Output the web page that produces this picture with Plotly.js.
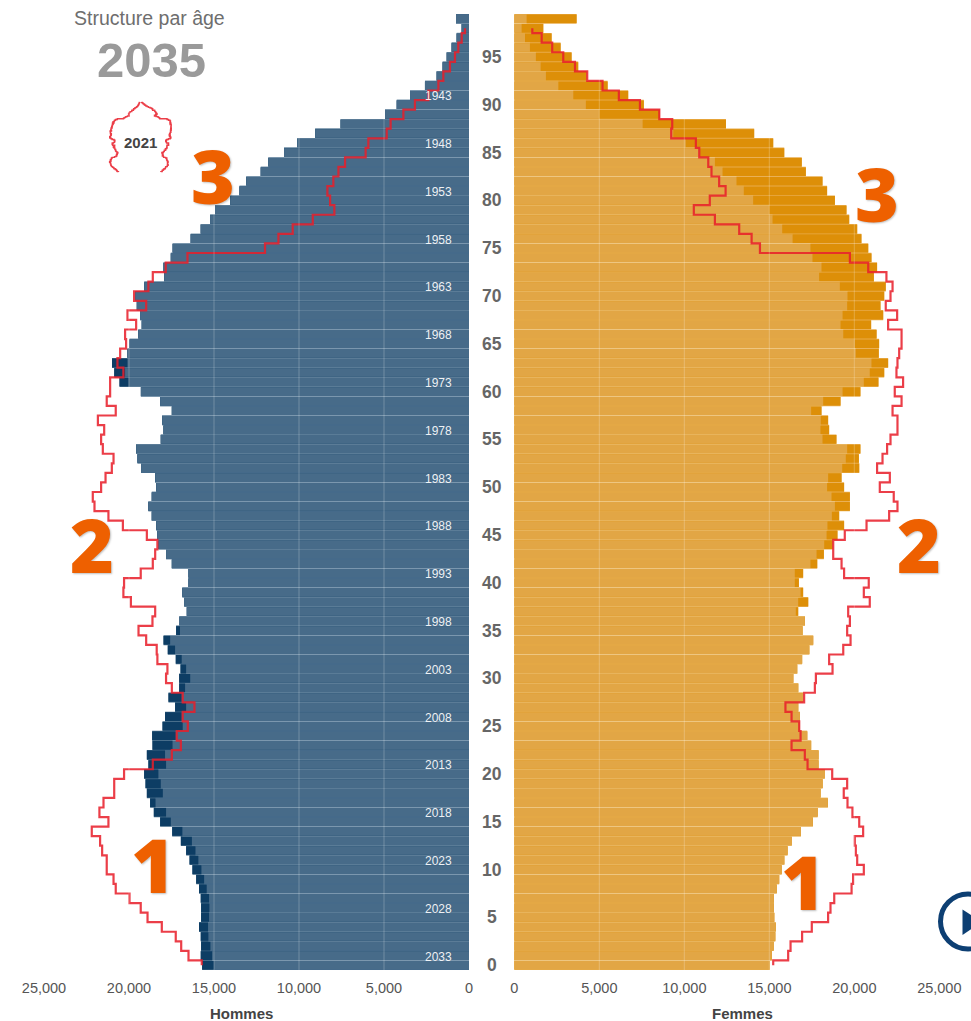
<!DOCTYPE html>
<html><head><meta charset="utf-8">
<script src="https://cdn.plot.ly/plotly-3.0.1.min.js"></script>
<style>html,body{margin:0;padding:0;background:#fff;overflow:hidden}#g{width:971px;height:1021px}</style>
</head><body><div id="g"></div>
<script>
// All series run from age 99 down to age 0
const ages = [99,98,97,96,95,94,93,92,91,90,89,88,87,86,85,84,83,82,81,80,79,78,77,76,75,74,73,72,71,70,69,68,67,66,65,64,63,62,61,60,59,58,57,56,55,54,53,52,51,50,49,48,47,46,45,44,43,42,41,40,39,38,37,36,35,34,33,32,31,30,29,28,27,26,25,24,23,22,21,20,19,18,17,16,15,14,13,12,11,10,9,8,7,6,5,4,3,2,1,0];
const hommesTotal = [765,430,725,1020,1310,1550,1900,2590,3470,4250,4940,7550,9050,10100,10880,11800,12250,13100,13500,14050,14940,15230,15780,16370,17430,17540,17970,17930,19100,19640,19540,19350,19250,19450,
19970,20090,21000,20870,20560,19300,18170,17480,18050,17970,18130,19580,19500,19290,18460,18400,18660,18860,18660,18400,18330,18270,17820,17480,16500,16500,16860,16740,16600,17030,17230,17970,17720,17250,16970,17050,
17050,17680,17290,17880,18030,18640,18620,18950,18860,19110,19030,18950,18760,18540,18170,17460,16950,16640,16440,16270,16050,15880,15780,15760,15760,15880,15780,15760,15780,15700];
const hommesBase = [765,430,725,1020,1310,1550,1900,2590,3470,4250,4940,7550,9050,10100,10880,11800,12250,13100,13500,14050,14940,15230,15780,16370,17430,17540,17970,17930,19100,19640,19540,19350,19250,19450,
19970,20090,20090,20230,20030,19300,18170,17480,18050,17970,18130,19580,19500,19290,18460,18400,18660,18860,18660,18400,18330,18270,17820,17480,16500,16500,16860,16740,16600,17030,17000,17580,17290,16900,16640,16400,
16700,16900,16640,16900,16840,17250,17440,17880,17820,18270,18130,18010,18440,17820,17540,16860,16300,16090,15920,15740,15580,15430,15290,15270,15290,15350,15330,15210,15110,15010];
const hommes2021 = [null,235,430,630,825,1120,1510,1800,2390,3180,3860,4610,4840,5920,6080,7290,7680,7980,8330,8170,7920,9190,10370,11210,12000,16560,17840,18600,18860,19700,18990,20090,19580,20230,
20170,20520,20680,20330,21110,21110,21310,20780,21830,21460,21640,21540,20910,21010,21380,21640,22130,22030,21210,20360,18950,18330,18460,18600,19310,20290,20330,19890,18460,18620,19440,18990,18370,18330,17740,17820,
17480,16840,16150,16840,16540,17190,16950,17480,18600,20290,20870,20870,21500,21740,21210,22190,21700,21580,21310,21310,20910,20780,19970,19310,18910,18070,17250,16930,16500,15720];
const femmesTotal = [3665,1705,2195,2725,3370,3760,4250,5490,6700,7620,8560,12450,14110,15230,15880,16910,17150,18130,18400,18860,19540,19700,20170,20420,20820,21010,21340,21150,21850,21760,21540,21700,20990,21310,
21460,21440,21990,21760,21420,20360,19190,18070,18460,18520,18950,20360,20270,20290,19250,19400,19740,19740,19110,19400,19010,18720,18210,17820,16990,16740,16990,17290,16700,17090,16950,17580,17350,16930,16640,16410,
16700,16990,16700,16800,16800,17230,17460,17890,17890,18250,18130,18010,18440,17840,17560,16860,16310,16070,15880,15720,15580,15430,15270,15270,15290,15370,15350,15250,15150,15030];
const femmesBase = [725,430,630,920,1270,1550,1860,2590,3470,4210,5000,7550,9350,10090,10920,11800,12250,13070,13500,14050,14990,15190,15760,16370,17420,17540,18070,17930,19150,19600,19580,19310,19190,19350,
20030,20090,21010,20910,20560,19310,18170,17460,18030,18010,18130,19580,19500,19290,18460,18400,18660,18860,18680,18420,18370,18230,17780,17420,16500,16500,16840,16700,16560,17090,16950,17580,17350,16930,16640,16410,
16700,16990,16700,16800,16800,17230,17460,17890,17890,18250,18130,18010,18440,17840,17560,16860,16310,16070,15880,15720,15580,15430,15270,15270,15290,15370,15350,15250,15150,15030];
const femmes2021 = [null,1060,1610,2230,2880,3570,4290,5190,6150,7390,8530,9290,9230,10680,10880,11410,11600,12050,12430,11500,10560,11800,13230,13960,14450,19740,20820,21890,22250,22130,21850,22520,21990,22780,
22780,22640,22540,22480,22870,22380,22780,22250,22540,22540,22130,21930,21660,21340,22090,21500,22320,22540,22050,20720,19440,18760,18760,19250,19400,20850,20560,20910,19640,19740,19580,19780,19350,18520,18720,17740,
17680,17050,15950,16310,16760,16840,16310,17090,17250,18700,19580,19380,19600,19890,20290,20520,20030,20090,20170,20560,19930,19840,18820,18600,18460,17500,16930,16250,16110,15230];
const valueTicks = [0,5000,10000,15000,20000,25000];
const ageTicks = [0,5,10,15,20,25,30,35,40,45,50,55,60,65,70,75,80,85,90,95];
const birthYears = [1943,1948,1953,1958,1963,1968,1973,1978,1983,1988,1993,1998,2003,2008,2013,2018,2023,2028,2033];
const pyramidYear = "2035", baseYear = "2021";

const W = 971, H = 1021;
const px = x => x / W, py = y => 1 - y / H;
const BLUE_DARK = '#0d3d64', BLUE = '#476b89', BLUE_GAP = '#7f9ab0', BLUE_DARK_GAP='#3d6583';
const GOLD_DARK = '#dd8f08', GOLD = '#e2a645', GOLD_GAP = '#eec784', GOLD_DARK_GAP='#e8ab4a';
const RED = 'rgba(232,30,42,0.86)';
const BW = 0.9;

function bar(x, color, width, xa, ya, name) {
  return {type:'bar', orientation:'h', x, y:ages, width, name, xaxis:xa, yaxis:ya,
          marker:{color, line:{width:0}}, hoverinfo:'x+y', showlegend:false};
}
function line(x, xa, ya, w) {
  return {type:'scatter', mode:'lines', x, y:ages, xaxis:xa, yaxis:ya, name:baseYear,
          line:{color:RED, width:w, shape:'vhv'}, connectgaps:false, showlegend:false, hoverinfo:'skip'};
}
const traces = [
  bar(hommesTotal, BLUE_DARK_GAP, 1.05, 'x', 'y', 'Hommes'),
  bar(hommesBase, BLUE_GAP, 1.05, 'x', 'y', 'Hommes'),
  bar(hommesTotal, BLUE_DARK, BW, 'x', 'y', 'Hommes'),
  bar(hommesBase, BLUE, BW, 'x', 'y', 'Hommes'),
  line(hommes2021, 'x', 'y', 2.2),
  bar(femmesTotal, GOLD_DARK_GAP, 1.05, 'x2', 'y2', 'Femmes'),
  bar(femmesBase, GOLD_GAP, 1.05, 'x2', 'y2', 'Femmes'),
  bar(femmesTotal, GOLD_DARK, BW, 'x2', 'y2', 'Femmes'),
  bar(femmesBase, GOLD, BW, 'x2', 'y2', 'Femmes'),
  line(femmes2021, 'x2', 'y2', 2.2),
  line(hommes2021.map(v => v === null ? null : -v), 'x3', 'y3', 1.4),
  line(femmes2021, 'x3', 'y3', 1.4)
];

const FONT = 'Liberation Sans, Arial, sans-serif';
const xTick = {tickvals:valueTicks, tickformat:',', showgrid:false, zeroline:false, showline:false,
  ticks:'outside', ticklen:5, tickcolor:'rgba(0,0,0,0)', tickfont:{family:FONT, size:14.5, color:'#555'}, fixedrange:true};
const yBase = {showgrid:false, zeroline:false, showline:false, showticklabels:false, ticks:'', range:[-0.5,99.5], fixedrange:true};
const yDom = [py(970), py(14)];

const ann = [];
function note(text, x, y, size, color, bold, fam) {
  ann.push({text: bold ? '<b>'+text+'</b>' : text, x:px(x), y:py(y), xref:'paper', yref:'paper',
    showarrow:false, xanchor:'center', yanchor:'middle', font:{family:fam||FONT, size, color}});
}
note('Structure par âge', 149, 18, 19.5, '#6e6e6e');
note(pyramidYear, 151, 60, 49, '#9a9a9a', true);
note(baseYear, 140, 143, 15, '#444', true);
note('Hommes', 241, 1013, 15, '#444', true);
note('Femmes', 742, 1013, 15, '#444', true);
const OR = '#ee6000', OF = 'Open Sans, sans-serif';
[['3',213,175],['3',877,193],['2',92,544],['2',919,544],['1',153,864],['1',803,881]].forEach(d => {
  ann.push({text:d[0], x:px(d[1]), y:py(d[2]), xref:'paper', yref:'paper', showarrow:false, xanchor:'center', yanchor:'middle',
    font:{family:OF, size:75, color:OR, weight:800, shadow:'1px 1px 2px rgba(0,0,0,0.25)'}});
});
ageTicks.forEach(a => ann.push({text:'<b>'+a+'</b>', x:px(491.5), y:a, xref:'paper', yref:'y', showarrow:false,
  xanchor:'center', yanchor:'middle', font:{family:FONT, size:17.5, color:'#666'}}));
birthYears.forEach(b => ann.push({text:String(b), x:1820, y:2033.9-b, xref:'x', yref:'y', showarrow:false,
  xanchor:'center', yanchor:'middle', font:{family:FONT, size:12, color:'rgba(255,255,255,0.92)'}}));

const shapes = [];
valueTicks.slice(1,-1).forEach(v => {
  ['x','x2'].forEach(xr => shapes.push({type:'line', xref:xr, yref:'paper', x0:v, x1:v, y0:yDom[0], y1:yDom[1],
    line:{color:'rgba(255,255,255,0.24)', width:1}, layer:'above'}));
});
shapes.push({type:'circle', xref:'paper', yref:'paper', x0:px(940.5), x1:px(995.5), y0:py(949), y1:py(894),
  line:{color:'#0d3f73', width:5}, fillcolor:'rgba(0,0,0,0)'});
shapes.push({type:'path', xref:'paper', yref:'paper',
  path:`M ${px(962.5)} ${py(909.5)} L ${px(982)} ${py(922)} L ${px(962.5)} ${py(935)} Z`,
  fillcolor:'#0d3f73', line:{width:0}});

const layout = {
  width:W, height:H, margin:{l:0,r:0,t:0,b:0}, paper_bgcolor:'#fff', plot_bgcolor:'rgba(0,0,0,0)',
  barmode:'overlay', showlegend:false, hovermode:'closest',
  xaxis:Object.assign({}, xTick, {domain:[px(44),px(469)], range:[25000,0], anchor:'y'}),
  yaxis:Object.assign({}, yBase, {domain:yDom, anchor:'x'}),
  xaxis2:Object.assign({}, xTick, {domain:[px(514.3),px(939.3)], range:[0,25000], anchor:'y2'}),
  yaxis2:Object.assign({}, yBase, {domain:yDom, anchor:'x2'}),
  xaxis3:{domain:[px(105),px(175)], range:[-25550,25550], anchor:'y3', visible:false, fixedrange:true},
  yaxis3:{domain:[py(173),py(100)], range:[-1.4,100.8], anchor:'x3', visible:false, fixedrange:true},
  annotations:ann, shapes
};
Plotly.newPlot('g', traces, layout, {displayModeBar:false, responsive:false});
</script></body></html>
